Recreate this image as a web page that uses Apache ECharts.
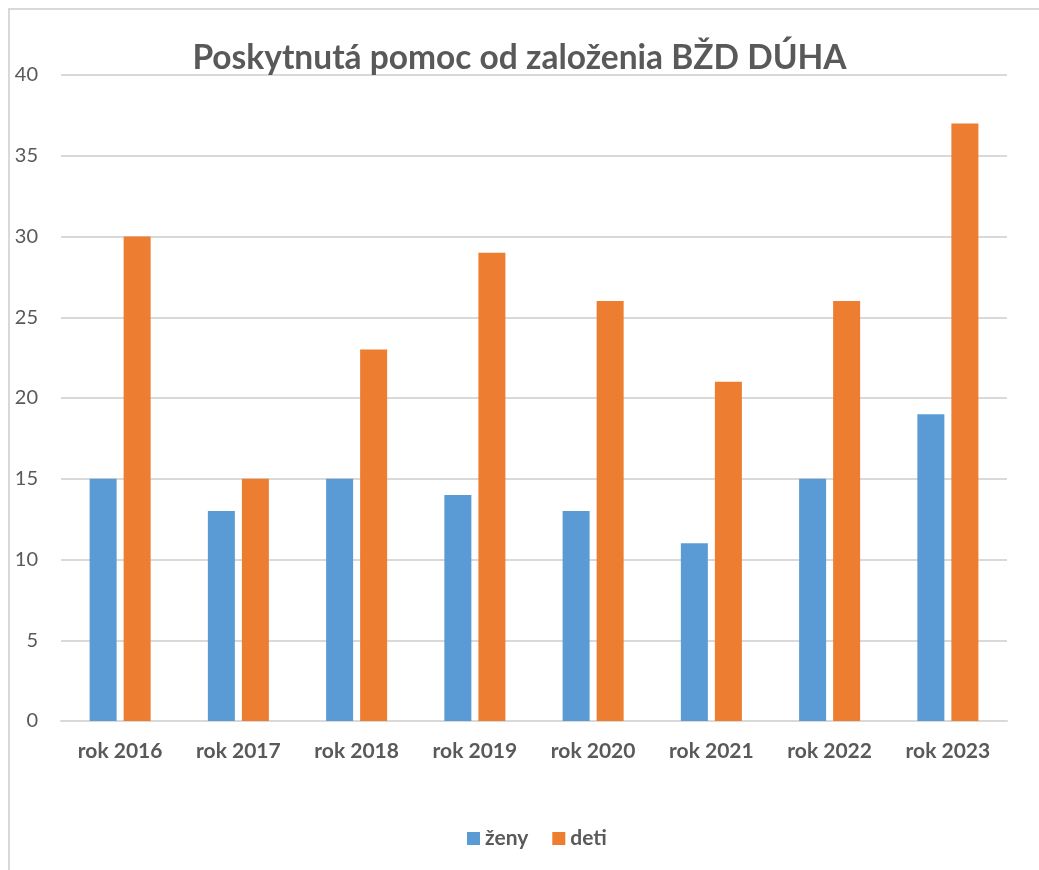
<!DOCTYPE html>
<html>
<head>
	<meta charset="utf-8">
	<title>Poskytnutá pomoc</title>
	<script src="https://cdn.jsdelivr.net/npm/echarts@6/dist/echarts.min.js"></script>
	<style>
		body { margin: 0; background: #fff; }
	</style>
</head>
<body>
	<div id="container" style="width: 1039px;height:870px;"></div>
	<script type="text/javascript">
		var roky = ['rok 2016', 'rok 2017', 'rok 2018', 'rok 2019', 'rok 2020', 'rok 2021', 'rok 2022', 'rok 2023'];
		var zeny = [15, 13, 15, 14, 13, 11, 15, 19];
		var deti = [30, 15, 23, 29, 26, 21, 26, 37];
		var yTicks = [0, 5, 10, 15, 20, 25, 30, 35, 40];

		var font = 'Lato, "Open Sans", sans-serif';
		var myChart = echarts.init(document.getElementById('container'));
		myChart.setOption({
			animation: false,
			textStyle: { fontFamily: font },
			graphic: [{
				type: 'rect',
				shape: { x: 9, y: 9, width: 1200, height: 1000 },
				style: { fill: 'none', stroke: '#d9d9d9', lineWidth: 2 },
				silent: true
			}],
			title: {
				text: 'Poskytnutá pomoc od založenia BŽD DÚHA',
				left: 'center',
				top: 36,
				textStyle: { fontFamily: font, fontSize: 33.5, fontWeight: 'bold', color: '#595959' }
			},
			legend: {
				data: ['ženy', 'deti'],
				top: 823,
				left: 462,
				itemWidth: 13,
				itemHeight: 13,
				itemGap: 24,
				icon: 'rect',
				textStyle: { fontFamily: font, fontSize: 21, fontWeight: 'bold', color: '#595959' }
			},
			grid: { left: 61, right: 32, top: 75, bottom: 149, containLabel: false },
			xAxis: {
				type: 'category',
				data: roky,
				axisLine: { lineStyle: { color: '#d9d9d9', width: 2 } },
				axisTick: { show: false },
				axisLabel: { margin: 20, fontFamily: font, fontSize: 21, fontWeight: 'bold', color: '#595959' }
			},
			yAxis: {
				type: 'value',
				min: yTicks[0],
				max: yTicks[yTicks.length - 1],
				interval: 5,
				axisLine: { show: false },
				axisTick: { show: false },
				axisLabel: { margin: 23, fontFamily: font, fontSize: 20, color: '#595959' },
				splitLine: { lineStyle: { color: '#d9d9d9', width: 2 } }
			},
			series: [
				{ name: 'ženy', type: 'bar', data: zeny, barWidth: 27, barGap: '26%', itemStyle: { color: '#5B9BD5' } },
				{ name: 'deti', type: 'bar', data: deti, barWidth: 27, itemStyle: { color: '#ED7D31' } }
			]
		});
	</script>
</body>
</html>
